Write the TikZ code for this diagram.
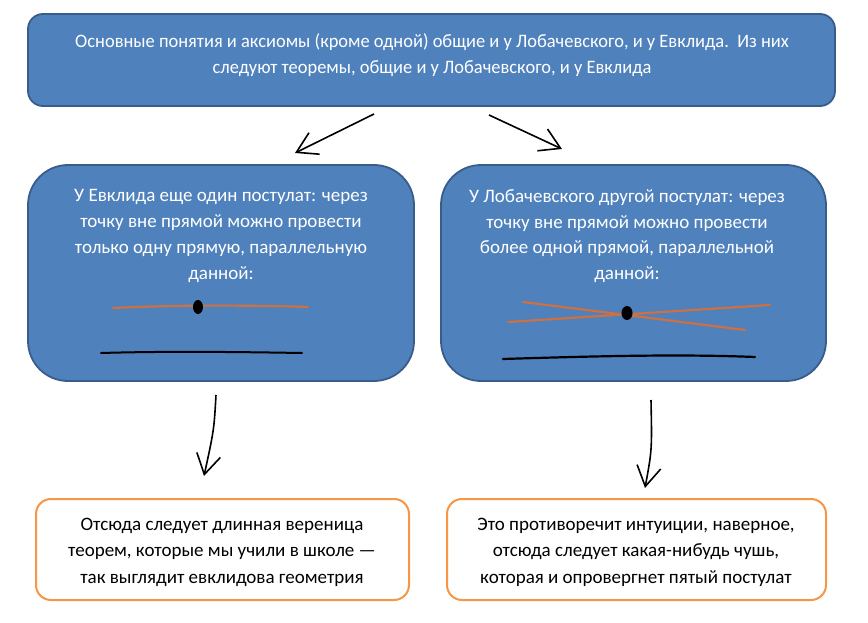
\documentclass[tikz,border=0pt]{standalone}
\usepackage{fontspec}
\setmainfont{Carlito}
\newfontfamily\narrowfont[FakeStretch=0.97]{Carlito}
\usetikzlibrary{arrows.meta}

\begin{document}
\begin{tikzpicture}[x=1pt,y=-1pt]
        % Define colors
        \definecolor{boxblue}{RGB}{79,129,189}
        \definecolor{boxedge}{RGB}{56,93,138}
        \definecolor{boxorange}{RGB}{247,150,70}
        \definecolor{paraline}{RGB}{205,112,66}
        \definecolor{baseline}{RGB}{10,14,30}

        \tikzset{
            bluebox/.style={draw=boxedge, fill=boxblue, line width=1.8pt},
            orangebox/.style={draw=boxorange, fill=white, line width=2pt, rounded corners=15pt},
            bluetext/.style={white, align=center, font=\fontsize{19}{25.7}\selectfont},
            blacktext/.style={black, align=center, font=\fontsize{19}{26.5}\selectfont},
            handarrow/.style={line width=1.6pt, -{Straight Barb[length=20pt, width=24pt, line width=1.6pt]}}
        }

        \useasboundingbox (0,0) rectangle (868,623);

        % Top box - common axioms
        \node[bluebox, rounded corners=15pt, minimum width=807, minimum height=92] (common) at (431.5,60) {};
        \node[bluetext, font=\fontsize{19}{26}\selectfont] (commontxt) at (432,55.5) {\narrowfont Основные понятия и аксиомы (кроме одной) общие и у Лобачевского, и у Евклида.\ \ Из них\\
            \narrowfont следуют теоремы, общие и у Лобачевского, и у Евклида};

        % Middle boxes - the fifth postulate
        \node[bluebox, rounded corners=40pt, minimum width=386, minimum height=216] (euclid) at (221,273) {};
        \node[bluetext] (euclidtxt) at (221,236) {У Евклида еще один постулат: через\\
            точку вне прямой можно провести\\
            только одну прямую, параллельную\\
            данной:};

        \node[bluebox, rounded corners=40pt, minimum width=385, minimum height=216] (lobach) at (633.5,273) {};
        \node[bluetext] (lobachtxt) at (627,236) {У Лобачевского другой постулат: через\\
            точку вне прямой можно провести\\
            более одной прямой, параллельной\\
            данной:};

        % Lines drawn inside the middle boxes
        \draw[paraline, line width=2.2pt, line cap=round] (113,308) .. controls (170,305) and (250,305) .. (308,307);
        \fill[black] (198,307) ellipse (5 and 7);
        \draw[baseline, line width=2pt, line cap=round] (101,353) .. controls (170,351) and (240,352) .. (302,353);

        \draw[paraline, line width=2.2pt, line cap=round] (523,302) -- (745,330);
        \draw[paraline, line width=2.2pt, line cap=round] (508,322) -- (770,305);
        \fill[black] (627,313) ellipse (5.5 and 7);
        \draw[baseline, line width=2.2pt, line cap=round] (503,359) .. controls (600,356) and (680,354) .. (755,357);

        % Bottom boxes - consequences
        \node[orangebox, minimum width=373, minimum height=101] (school) at (222.5,549.5) {};
        \node[blacktext] (schooltxt) at (222,552) {Отсюда следует длинная вереница\\
            теорем,\ которые мы учили в школе ---\\
            так выглядит евклидова геометрия};

        \node[orangebox, minimum width=379, minimum height=101] (nonsense) at (636.5,549.5) {};
        \node[blacktext] (nonsensetxt) at (636,552) {Это противоречит интуиции, наверное,\\
            отсюда следует какая-нибудь чушь,\\
            которая и опровергнет пятый постулат};

        % Arrow end points
        \coordinate (leftfrom) at (374,114);
        \coordinate (leftto) at (295,153);
        \coordinate (rightfrom) at (489,115);
        \coordinate (rightto) at (562,149);
        \coordinate (downleftfrom) at (216,395);
        \coordinate (downleftto) at (204,476);
        \coordinate (downrightfrom) at (651,400);
        \coordinate (downrightto) at (645,488);

        % Hand drawn arrows
        \draw[handarrow] (leftfrom) -- (leftto);
        \draw[handarrow] (rightfrom) -- (rightto);
        \draw[handarrow] (downleftfrom) .. controls (214,430) .. (downleftto);
        \draw[handarrow] (downrightfrom) .. controls (652,450) .. (downrightto);
    \end{tikzpicture}
\end{document}
